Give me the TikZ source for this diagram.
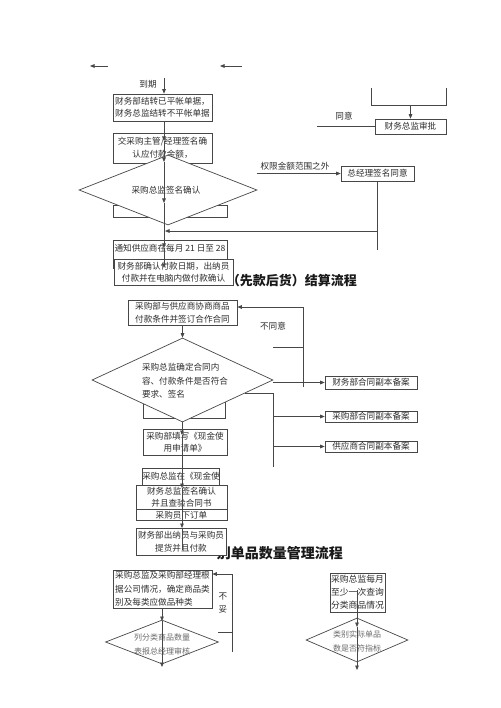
\documentclass[tikz,border=0pt]{standalone}
\usepackage{fontspec}
\setmainfont{Noto Sans CJK SC}
\usetikzlibrary{shapes.geometric,arrows.meta}
\tikzset{
  ln/.style={draw=black!72, line width=0.7pt},
  arr/.style={ln, -{Triangle[length=4.5pt,width=3.6pt]}},
  box/.style={draw=black!72, line width=0.7pt, fill=white, inner sep=0pt, align=center, text=black!82, font={\fontsize{8.6}{12.5}\selectfont}},
  dia/.style={diamond, draw=black!72, line width=0.7pt, fill=white, inner sep=0pt},
  txt/.style={inner sep=0pt, align=center, text=black!82, font={\fontsize{8.6}{12.5}\selectfont}},
  ttl/.style={inner sep=0pt, text=black!90, font={\fontsize{13}{15}\selectfont\bfseries}},
  sp/.style={font={\fontsize{8.6}{#1}\selectfont}},
  dtx/.style={txt, text=black!58, font={\fontsize{8}{14}\selectfont}}
}
\begin{document}
\begin{tikzpicture}[x=1pt,y=-1pt]
\fill[white] (0,0) rectangle (500,708);
\useasboundingbox (0,0) rectangle (500,708);

% titles (partly covered by boxes)
\node[ttl, anchor=east] (t1) at (357,281) {（先款后货）结算流程};
\node[ttl, anchor=east, font={\fontsize{14}{16}\selectfont\bfseries}] (t2) at (343,553) {别单品数量管理流程};

% ---- section 1 ----
\coordinate (a1) at (90,66); \coordinate (a2) at (108,66);
\coordinate (a3) at (220,66); \coordinate (a4) at (242,66);
\coordinate (top1) at (164,78);
\node[txt] (lbl1) at (148,84) {到期};
\node[box, minimum width=99pt, minimum height=27pt, sp=11.7] (b1) at (162.5,107.5) {财务部结转已平帐单据，\\财务总监结转不平帐单据};
\node[box, minimum width=99pt, minimum height=30pt, sp=13] (b2) at (162.5,148) {交采购主管/经理签名确\\认应付款金额，};
\node[box, minimum width=114pt, minimum height=12pt] (h1) at (170,211) {};
\node[dia, minimum width=178pt, minimum height=70pt] (d1) at (168,190) {};
\node[txt] (d1t) at (166,190) {采购总监签名确认};

\node[txt] (lbl2) at (295,166) {权限金额范围之外};
\node[box, minimum width=73pt, minimum height=15pt] (zj) at (377.5,173.5) {总经理签名同意};
\coordinate (zs) at (257,173.5);
\node[txt] (lbl3) at (344,116) {同意};
\node[box, minimum width=71pt, minimum height=15pt] (cw) at (410.5,126.5) {财务总监审批};
\coordinate (cs) at (317,126.5);
\coordinate (bl) at (371,88); \coordinate (bl1) at (371,105);
\coordinate (br1) at (446,105); \coordinate (br) at (446,88);
\coordinate (zjend) at (377.5,250); \coordinate (j1) at (165,231);

\node[box, minimum width=114pt, minimum height=28pt] (n1) at (170,254) {通知供应商在每月 21 日至 28\\\phantom{日}};
\node[box, minimum width=119pt, minimum height=26pt, sp=11.5] (n2) at (173.5,272) {财务部确认付款日期，出纳员\\付款并在电脑内做付款确认};

\coordinate (v0) at (164,141); \coordinate (v1) at (164,162);
\coordinate (v2) at (164,203); \coordinate (v3) at (164,248);
\coordinate (v4) at (164,268);

% ---- section 2 ----
\node[box, minimum width=109pt, minimum height=25pt, sp=13] (s1) at (182.5,312.5) {采购部与供应商协商商品\\付款条件并签订合作合同};
\node[box, minimum width=82pt, minimum height=18pt] (h2) at (184,409) {};
\node[dia, minimum width=181pt, minimum height=84pt] (d2) at (182.5,380) {};
\node[txt, align=left, sp=13.5] (d2t) at (185,381) {采购总监确定合同内\\容、付款条件是否符合\\要求、签名};
\coordinate (rb) at (303,387); \coordinate (rt) at (303,307);
\node[txt] (lbl4) at (273,326) {不同意};
\coordinate (nl1) at (273,347); \coordinate (nl2) at (303,347);
\node[box, minimum width=92pt, minimum height=13pt] (fb) at (371,382.5) {财务部合同副本备案};
\node[box, minimum width=92pt, minimum height=11pt] (cb) at (371,416.5) {采购部合同副本备案};
\node[box, minimum width=92pt, minimum height=11pt] (gb) at (371,446.5) {供应商合同副本备案};
\coordinate (e1) at (245,393); \coordinate (e2) at (273,393); \coordinate (e3) at (273,467);

\node[box, minimum width=84pt, minimum height=26pt, sp=12] (p1) at (185,442) {采购部填写《现金使\\用申请单》};
\node[box, minimum width=76pt, minimum height=17pt] (q1) at (181,476.5) {采购总监在《现金使};
\node[box, minimum width=91pt, minimum height=25pt, sp=12] (q2) at (181.5,497.5) {财务总监签名确认\\并且查验合同书};
\node[box, minimum width=91pt, minimum height=11.5pt] (q3) at (181.5,515) {采购员下订单};
\node[box, minimum width=90pt, minimum height=27pt, sp=13] (q4) at (181,541.5) {财务部出纳员与采购员\\提货并且付款};
\coordinate (p1in) at (182,435); \coordinate (q2in) at (182,488);
\coordinate (q4in) at (182,528); \coordinate (qend) at (182,550);

% ---- section 3 ----
\node[box, minimum width=99pt, minimum height=38pt, align=left, sp=13.5] (u1) at (162.5,589) {采购总监及采购部经理根\\据公司情况，确定商品类\\别及每类应做品种类};
\coordinate (g1) at (232,574); \coordinate (g2) at (232,652); \coordinate (g3) at (218,632);
\node[txt, sp=12.5] (lbl5) at (223,603) {不\\妥};
\node[dia, minimum width=113pt, minimum height=44pt] (d3) at (162,642) {};
\node[dtx] (d3t) at (162,644) {列分类商品数量\\表报总经理审核};
\coordinate (d3in) at (162,621); \coordinate (d3out) at (162,667);

\node[box, minimum width=55pt, minimum height=39pt, font={\fontsize{8.8}{13}\selectfont}] (w1) at (357.5,592.5) {采购总监每月\\至少一次查询\\分类商品情况};
\node[dia, minimum width=102pt, minimum height=44pt] (d4) at (357,640) {};
\node[dtx] (d4t) at (357,641.5) {类别实际单品\\数是否符指标};
\coordinate (w1m) at (357,590); \coordinate (d4in) at (357,627); \coordinate (d4out) at (357,670);

% ---- connectors ----
\draw[arr] (a2) -- (a1);
\draw[arr] (a4) -- (a3);
\draw[arr] (top1) -- (top1 |- b1.north);
\draw[arr] (top1 |- b1.south) -- (v0);
\draw[arr] (v0) -- (v1);
\draw[arr] (v1) -- (v2);
\draw[arr] (v2) -- (v3);
\draw[arr] (v3) -- (v4);
\draw[arr] (zs) -- (zj.west);
\draw[ln] (cs) -- (cw.west);
\draw[ln] (bl) -- (bl1) -- (br1) -- (br);
\draw[arr] (cw.north |- bl1) -- (cw.north);
\draw[ln] (zj.south) -- (zjend);
\draw[arr] (zj.south |- j1) -- (j1);

\draw[arr] (s1.south) -- (d2.north);
\draw[arr] (rb) -- (rt) -- (s1.east |- rt);
\draw[ln] (nl1) -- (nl2);
\draw[arr] (d2.east |- fb) -- (fb.west);
\draw[ln] (e1) -- (e2) -- (e3);
\draw[arr] (e2 |- cb) -- (cb.west);
\draw[arr] (e2 |- gb) -- (gb.west);
\draw[arr] (p1in |- d2.south) -- (p1in);
\draw[arr] (p1in) -- (q2in);
\draw[arr] (q2in) -- (q4in);
\draw[ln] (q4in) -- (qend);

\draw[arr] (g2) -- (g1) -- (u1.east |- g1);
\draw[ln] (g3) -- (g3 -| g1);
\draw[arr] (d3in |- u1.south) -- (d3in);
\draw[arr] (d3in) -- (d3out);
\draw[arr] (w1m) -- (d4in);
\draw[arr] (d4in) -- (d4out);
\end{tikzpicture}
\end{document}
